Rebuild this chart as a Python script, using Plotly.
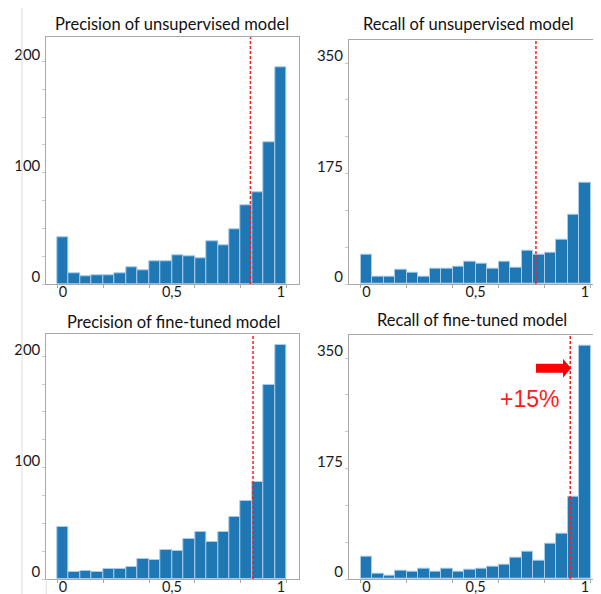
import plotly.graph_objects as go

W, H = 601, 594

# ---- data ----
bin_centers = [i / 19 for i in range(20)]
titles = ["Precision of unsupervised model", "Recall of unsupervised model",
          "Precision of fine-tuned model", "Recall of fine-tuned model"]
prec_unsup = [42, 10, 7, 8, 8, 10, 15, 12, 20, 20, 26, 25, 23, 38, 35, 49, 71, 82, 127, 195]
rec_unsup = [46, 12, 12, 22, 18, 12, 24, 25, 28, 35, 32, 24, 36, 26, 53, 47, 49, 70, 109, 161]
prec_ft = [47, 6, 7, 6, 9, 9, 11, 18, 17, 26, 25, 36, 42, 33, 42, 56, 70, 87, 174, 210]
rec_ft = [36, 9, 5, 13, 11, 17, 12, 17, 11, 14, 17, 20, 23, 34, 43, 29, 56, 72, 131, 370]
series = [prec_unsup, rec_unsup, prec_ft, rec_ft]
thresholds = [0.860, 0.776, 0.872, 0.933]
y_ticks = [[0, 100, 200], [0, 175, 350], [0, 100, 200], [0, 175, 350]]
x_tickvals = [0, 0.5, 1]
x_ticktext = ["0", "0,5", "1"]
annotation_text = "+15%"

# ---- layout geometry (pixels) ----
boxes = [  # left, right, top, bottom
    (38.3, 291.0, 29.3, 276.0),
    (341.0, 594.3, 31.7, 276.0),
    (38.3, 291.0, 326.0, 571.0),
    (341.0, 594.3, 326.7, 571.0),
]
x_ranges = [(-0.0768, 1.083), (-0.0797, 1.0797), (-0.0768, 1.083), (-0.0797, 1.0797)]
y_ranges = [(0, 221.6), (0, 387), (0, 220), (0, 387)]
y_minor = [25, 350 / 6, 25, 350 / 6]
title_pos = [(163.5, 16), (460, 16), (166, 314), (464, 312)]
LABEL_RAISE_PX = 7  # tick labels sit a few pixels above their tick marks in the original

FONT = "Lato, 'Open Sans', sans-serif"
fig = go.Figure()
shapes = []
annotations = []
for k in range(4):
    xa = "x" if k == 0 else f"x{k+1}"
    ya = "y" if k == 0 else f"y{k+1}"
    fig.add_trace(go.Bar(
        x=bin_centers, y=series[k], xaxis=xa, yaxis=ya,
        marker=dict(color="#1f77b4", line=dict(color="#a9cbe8", width=1)),
        width=1 / 19, showlegend=False, hoverinfo="skip"))
    l, r, t, b = boxes[k]
    units_per_px = (y_ranges[k][1] - y_ranges[k][0]) / (b - t)
    raise_units = LABEL_RAISE_PX * units_per_px
    axis_common = dict(showline=True, mirror=True, linecolor="#a8a8a8", linewidth=1,
                       showgrid=False, zeroline=False)
    fig.layout[("xaxis" if k == 0 else f"xaxis{k+1}")] = dict(
        domain=[l / W, r / W], range=list(x_ranges[k]), anchor=ya,
        tickvals=x_tickvals, ticktext=x_ticktext, ticks="", ticklen=0,
        ticklabelstandoff=-5,
        tickangle=0, tickfont=dict(family=FONT, size=14.5, color="#1a1a1a"),
        minor=dict(ticks="outside", ticklen=3, tickcolor="#a8a8a8",
                   tick0=-0.5 / 19, dtick=4 / 19),
        **axis_common)
    fig.layout[("yaxis" if k == 0 else f"yaxis{k+1}")] = dict(
        domain=[1 - b / H, 1 - t / H], range=list(y_ranges[k]), anchor=xa,
        tickvals=[v + raise_units for v in y_ticks[k]],
        ticktext=[str(v) for v in y_ticks[k]],
        ticks="", ticklen=0, ticklabelstandoff=2,
        tickfont=dict(family=FONT, size=15, color="#1a1a1a"),
        minor=dict(ticks="outside", ticklen=3, tickcolor="#c8c8c8",
                   tick0=0, dtick=y_minor[k]),
        **axis_common)
    shapes.append(dict(type="line", xref=xa, yref=f"{ya} domain",
                       x0=thresholds[k], x1=thresholds[k], y0=0, y1=1,
                       line=dict(color="#ff1a1a", width=1.5, dash="3px,2px")))
    tx, ty = title_pos[k]
    annotations.append(dict(text=titles[k], x=tx / W, y=1 - ty / H, xref="paper", yref="paper",
                            xanchor="center", yanchor="middle", showarrow=False,
                            font=dict(family=FONT, size=16.5, color="#111")))

# block arrow in panel 4 (data coordinates of panel 4)
ax0, ax1, ax2 = 0.776, 0.900, 0.936
ay, hs, hh = 334, 7.1, 15.0
shapes.append(dict(
    type="path", xref="x4", yref="y4",
    path=(f"M {ax0},{ay-hs} L {ax1},{ay-hs} L {ax1},{ay-hh} L {ax2},{ay} "
          f"L {ax1},{ay+hh} L {ax1},{ay+hs} L {ax0},{ay+hs} Z"),
    fillcolor="#ff0000", line=dict(width=0)))
annotations.append(dict(text=annotation_text, x=521.7 / W, y=1 - 390.7 / H, xref="paper", yref="paper",
                        xanchor="center", yanchor="middle", showarrow=False,
                        font=dict(family="'Liberation Sans', Arial, sans-serif", size=23, color="#ff1a1a")))

# faint page-edge lines from the original screenshot
shapes.append(dict(type="line", xref="paper", yref="paper", x0=14 / W, x1=14 / W, y0=1 - 590 / H, y1=1,
                   line=dict(color="#dcdcdc", width=1)))
shapes.append(dict(type="line", xref="paper", yref="paper", x0=38.3 / W, x1=38.3 / W, y0=0, y1=1 - 571 / H,
                   line=dict(color="#dcdcdc", width=1)))

fig.update_layout(width=W, height=H, margin=dict(l=0, r=0, t=0, b=0),
                  paper_bgcolor="white", plot_bgcolor="white",
                  bargap=0, shapes=shapes, annotations=annotations)
fig.write_html("out.html")
